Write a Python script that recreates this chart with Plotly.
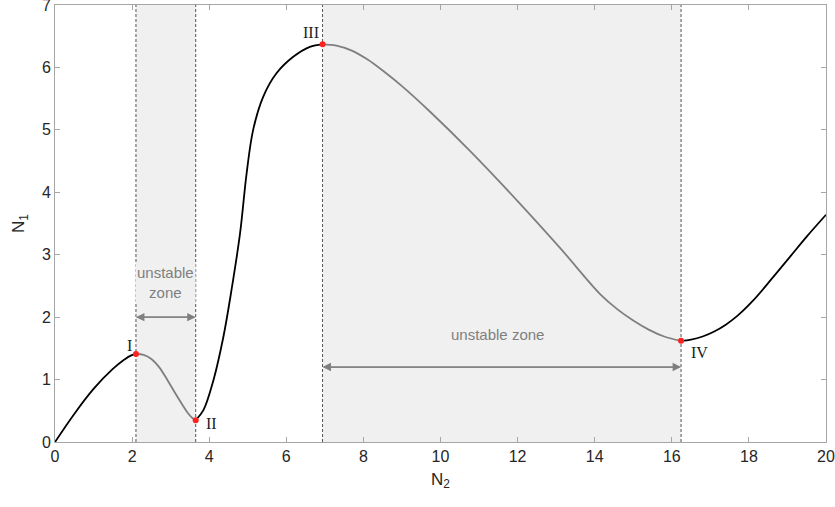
import plotly.graph_objects as go

# curve segments (stable = black, unstable = gray)
seg1_x = [0, 0.5, 1.0, 1.5, 1.8, 1.95, 2.1]
seg1_y = [0, 0.45, 0.85, 1.17, 1.32, 1.38, 1.41]
seg2_x = [2.1, 2.3, 2.5, 2.7, 2.9, 3.1, 3.3, 3.45, 3.57, 3.65]
seg2_y = [1.41, 1.395, 1.33, 1.20, 1.01, 0.80, 0.60, 0.46, 0.38, 0.35]
seg3_x = [3.65, 3.85, 4.11, 4.37, 4.58, 4.80, 4.97, 5.14, 5.40, 5.75, 6.18, 6.61, 6.94]
seg3_y = [0.35, 0.51, 0.99, 1.69, 2.44, 3.34, 4.30, 5.0, 5.53, 5.91, 6.17, 6.33, 6.37]
seg4_x = [6.94, 7.3, 7.7, 8.1, 8.5, 9.0, 9.73, 10.77, 12.0, 13.1, 14.14, 14.6, 14.99, 15.4, 15.8, 16.24]
seg4_y = [6.37, 6.35, 6.27, 6.13, 5.95, 5.70, 5.29, 4.66, 3.86, 3.11, 2.37, 2.12, 1.95, 1.80, 1.69, 1.62]
seg5_x = [16.24, 16.5, 16.8, 17.1, 17.4, 17.7, 18.1, 18.6, 19.07, 19.5, 20]
seg5_y = [1.62, 1.64, 1.69, 1.77, 1.88, 2.02, 2.26, 2.62, 2.97, 3.29, 3.64]

crit_x = [2.1, 3.65, 6.94, 16.24]
crit_y = [1.41, 0.35, 6.37, 1.62]
crit_labels = ["I", "II", "III", "IV"]
label_x = [1.92, 4.07, 6.64, 16.73]
label_y = [1.55, 0.3, 6.56, 1.44]

zones = [(2.1, 3.65), (6.94, 16.24)]
x_ticks = [0, 2, 4, 6, 8, 10, 12, 14, 16, 18, 20]
y_ticks = [0, 1, 2, 3, 4, 5, 6, 7]

GRAY = "#7f7f7f"
fig = go.Figure()

for x0, x1 in zones:
    fig.add_shape(type="rect", x0=x0, x1=x1, y0=0, y1=7, xref="x", yref="y",
                  fillcolor="#f0f0f0", line_width=0, layer="below")
for xv in crit_x:
    fig.add_shape(type="line", x0=xv, x1=xv, y0=0, y1=7, xref="x", yref="y",
                  line=dict(color="#555555", width=1, dash="3px,2px"), layer="below")

segs = [(seg1_x, seg1_y, "black"), (seg2_x, seg2_y, GRAY), (seg3_x, seg3_y, "black"),
        (seg4_x, seg4_y, GRAY), (seg5_x, seg5_y, "black")]
for sx, sy, c in segs:
    fig.add_trace(go.Scatter(x=sx, y=sy, mode="lines",
                             line=dict(color=c, width=1.8, shape="spline", smoothing=1.0),
                             showlegend=False, hoverinfo="skip"))

fig.add_trace(go.Scatter(x=crit_x, y=crit_y, mode="markers",
                         marker=dict(color="#ff2020", size=6), showlegend=False))

for lx, ly, t in zip(label_x, label_y, crit_labels):
    fig.add_annotation(x=lx, y=ly, text=t, showarrow=False,
                       font=dict(family="Liberation Serif", size=16, color="#222222"))

# double arrows
arrows = [(zones[0][0], zones[0][1], 2.0), (zones[1][0], zones[1][1], 1.2)]
for a0, a1, ay in arrows:
    for tail, head in [(a0, a1), (a1, a0)]:
        fig.add_annotation(x=head, y=ay, ax=tail, ay=ay, xref="x", yref="y",
                           axref="x", ayref="y", text="", showarrow=True,
                           arrowhead=2, arrowsize=1.3, arrowwidth=1.3,
                           arrowcolor=GRAY, standoff=0, startstandoff=0)

fig.add_annotation(x=sum(zones[0]) / 2, y=2.56, text="unstable<br>zone", showarrow=False,
                   font=dict(family="Liberation Sans", size=15, color=GRAY),
                   bgcolor="#f0f0f0")
fig.add_annotation(x=11.47, y=1.73, text="unstable zone", showarrow=False,
                   font=dict(family="Liberation Sans", size=15, color=GRAY))

axis_common = dict(showgrid=False, zeroline=False, showline=True, linecolor="#a6a6a6",
                   linewidth=1, mirror="allticks", ticks="inside", ticklen=5,
                   tickcolor="#a6a6a6", automargin=False, ticklabeloverflow="allow",
                   tickfont=dict(family="Liberation Sans", size=16, color="#262626"))
fig.update_xaxes(range=[0, 20], tickvals=x_ticks, **axis_common,
                 title=dict(text="N<sub>2</sub>", standoff=8,
                            font=dict(family="Liberation Sans", size=17, color="#262626")))
fig.update_yaxes(range=[0, 7], tickvals=y_ticks, **axis_common,
                 title=dict(text="N<sub>1</sub>", standoff=12,
                            font=dict(family="Liberation Sans", size=17, color="#262626")))

fig.update_layout(width=835, height=507, margin=dict(l=55, r=9, t=5, b=65),
                  plot_bgcolor="white", paper_bgcolor="white")
fig.write_html("out.html", config={"displayModeBar": False},
               post_script="document.body.style.margin='0';")
